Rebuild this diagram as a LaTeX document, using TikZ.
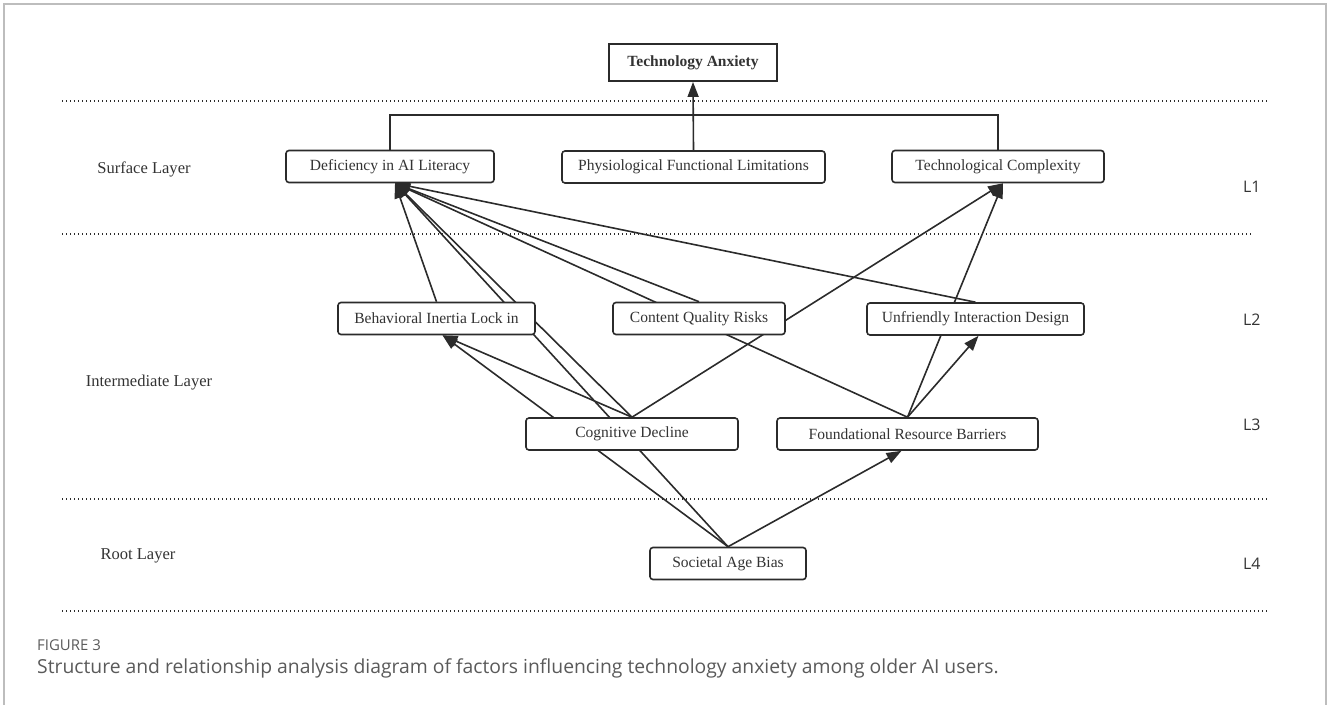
\documentclass[tikz,border=0pt]{standalone}
\usepackage{fontspec}
\setmainfont{Liberation Serif}
\newfontfamily\capfont{Open Sans}
\usetikzlibrary{arrows.meta,backgrounds}
\definecolor{ink}{HTML}{2B2B2B}
\definecolor{txt}{HTML}{333333}
\definecolor{capgray}{HTML}{5A5A5A}
\definecolor{framegray}{HTML}{BDBDBD}
\tikzset{
  box/.style={draw=ink, line width=1.6bp, rounded corners=3bp, fill=white, text=txt,
    minimum width=#1, minimum height=32bp, inner sep=0pt,
    font=\fontsize{15.6}{18}\selectfont},
  topbox/.style={draw=ink, line width=1.9bp, fill=white, text=txt,
    minimum width=168bp, minimum height=37bp, inner sep=0pt,
    font=\fontsize{15.6}{18}\selectfont\bfseries},
  link/.style={draw=ink, line width=1.6bp},
  arr/.style={link, -{Triangle[length=15bp,width=11bp]}},
  sepline/.style={draw=ink, line width=1.4bp, dash pattern=on 1.4bp off 2.6bp},
  layerlabel/.style={text=txt, font=\fontsize{16.6}{19}\selectfont, inner sep=0pt},
  lvl/.style={text=txt, anchor=west, font=\capfont\fontsize{16}{18}\selectfont, inner sep=0pt},
  frame/.style={draw=framegray, line width=1.5bp}
}
\begin{document}
\begin{tikzpicture}[x=1bp,y=-1bp]
\useasboundingbox (0,0) rectangle (1328,704);
% frame
\draw[frame] (4,710) -- (4,4) -- (1326,4) -- (1326,710);

% separator lines
\draw[sepline] (62,101) -- (1268,101);
\draw[sepline] (62,234) -- (1252,234);
\draw[sepline] (62,499) -- (1268,499);
\draw[sepline] (62,611) -- (1268,611);

% layer labels
\node[layerlabel] (sl) at (144,169) {Surface Layer};
\node[layerlabel] (il) at (149,383) {Intermediate Layer};
\node[layerlabel] (rl) at (138,556) {Root Layer};
\node[lvl] (l1) at (1243,187) {L1};
\node[lvl] (l2) at (1243,320) {L2};
\node[lvl] (l3) at (1243,425) {L3};
\node[lvl] (l4) at (1243,564) {L4};

% nodes
\node[topbox] (TA) at (693,62.5) {Technology Anxiety};
\node[box=208bp] (Def) at (390,166.5) {Deficiency in AI Literacy};
\node[box=263bp] (PFL) at (693.5,167) {Physiological Functional Limitations};
\node[box=212bp] (TC) at (998,166.5) {Technological Complexity};
\node[box=197bp] (BIL) at (436.5,318.5) {Behavioral Inertia Lock in};
\node[box=172bp] (CQR) at (699,318.5) {Content Quality Risks};
\node[box=217bp] (UID) at (975.5,319) {Unfriendly Interaction Design};
\node[box=212bp] (CD) at (632,434) {Cognitive Decline};
\node[box=261bp] (FRB) at (907.5,434) {Foundational Resource Barriers};
\node[box=156bp] (SAB) at (728,563.5) {Societal Age Bias};

% arrival points
\coordinate (defin) at ([xshift=5bp]Def.south);
\coordinate (tcin) at ([xshift=5bp]TC.south);
\coordinate (bilin) at ([xshift=6bp]BIL.south);
\coordinate (uidin) at ([xshift=3bp]UID.south);
\coordinate (frbin) at ([xshift=-6bp]FRB.south);
\coordinate (junc) at (693,115);

\begin{scope}[on background layer]
% top level
\draw[link] (Def.north) |- (junc) -| (TC.north);
\draw[arr] (PFL.north) -- (TA.south);
% into Deficiency in AI Literacy
\draw[arr] (BIL.north) -- (defin);
\draw[arr] (SAB.north) -- (defin);
\draw[arr] (CD.north) -- (defin);
\draw[arr] (CQR.north) -- (defin);
\draw[arr] (FRB.north) -- (defin);
\draw[arr] (UID.north) -- (defin);
% into Technological Complexity
\draw[arr] (CD.north) -- (tcin);
\draw[arr] (FRB.north) -- (tcin);
% into Behavioral Inertia Lock in
\draw[arr] (CD.north) -- (bilin);
\draw[arr] (SAB.north) -- (bilin);
% into Unfriendly Interaction Design
\draw[arr] (FRB.north) -- (uidin);
% into Foundational Resource Barriers
\draw[arr] (SAB.north) -- (frbin);
\end{scope}

% caption
\node[anchor=west, text=capgray, font=\capfont\fontsize{15}{18}\selectfont, inner sep=0pt] (fig) at (37,645) {FIGURE 3};
\node[anchor=west, text=capgray, font=\capfont\fontsize{19.4}{22}\selectfont, inner sep=0pt] (cap) at (37,668) {Structure and relationship analysis diagram of factors influencing technology anxiety among older AI users.};
\end{tikzpicture}
\end{document}
